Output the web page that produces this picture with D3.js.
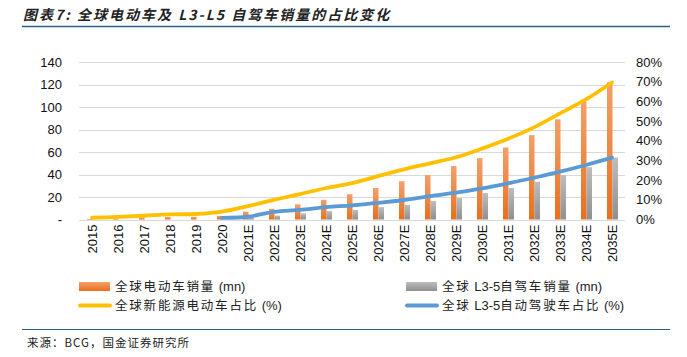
<!DOCTYPE html>
<html><head><meta charset="utf-8">
<script src="https://cdn.jsdelivr.net/npm/d3@7/dist/d3.min.js"></script>
<style>
html,body{margin:0;padding:0;background:#fff;}
svg{display:block;}
</style></head>
<body><svg id="c" width="687" height="357"></svg>
<script>
const categories = ["2015","2016","2017","2018","2019","2020","2021E","2022E","2023E","2024E","2025E","2026E","2027E","2028E","2029E","2030E","2031E","2032E","2033E","2034E","2035E"];
const evSales = [0.5, 1, 1.5, 2.2, 2.3, 3.2, 7, 9.5, 13.5, 17.5, 22.5, 28, 34, 39.5, 47.5, 54.5, 64, 75, 89, 104.5, 122];
const avSales = [0, 0, 0, 0, 0, 0, 1.5, 3.5, 5.5, 7.5, 8.5, 11, 13, 16.5, 19, 23.5, 28, 33.5, 39.5, 46.5, 55];
const evShare = [0.9, 1.3, 1.9, 2.6, 2.8, 4.0, 6.8, 10, 12.9, 16, 18.5, 22, 25.5, 28.5, 31.6, 36, 41, 46.8, 53.9, 61, 69.6];
const avShare = [null, null, null, null, null, 0.8, 1.4, 3.9, 4.9, 6.3, 7.2, 8.5, 9.9, 11.9, 13.6, 15.8, 18.4, 21.2, 24.3, 27.7, 31.4];
const leftTicks = [0, 20, 40, 60, 80, 100, 120, 140];
const rightTicks = [0, 10, 20, 30, 40, 50, 60, 70, 80];
const legendLabels = ["全球电动车销量 (mn)", "全球 L3-5自驾车销量 (mn)", "全球新能源电动车占比 (%)", "全球 L3-5自动驾驶车占比 (%)"];
const titleText = "图表7: 全球电动车及 L3-L5 自驾车销量的占比变化";
const sourceText = "来源：BCG，国金证券研究所";

const svg = d3.select("#c");
const FONT = "'Liberation Sans', Arial, 'Noto Sans CJK SC', sans-serif";
const CJK = "'Noto Sans CJK SC', sans-serif";

const defs = svg.append("defs");
function grad(id, top, bottom){
  const g = defs.append("linearGradient").attr("id", id).attr("x1",0).attr("y1",0).attr("x2",0).attr("y2",1);
  g.append("stop").attr("offset","0%").attr("stop-color", top);
  g.append("stop").attr("offset","100%").attr("stop-color", bottom);
}
grad("gOrange", "#F4A06A", "#E8701E");
grad("gGray", "#BDBDBD", "#8F8F8F");

// title
svg.append("text").attr("x", 23).attr("y", 20)
  .attr("font-family", CJK).attr("font-size", 14).attr("font-weight", "bold").attr("font-style","italic")
  .attr("letter-spacing", 2).attr("fill", "#222").text(titleText);
svg.append("line").attr("x1", 22).attr("x2", 670).attr("y1", 26.5).attr("y2", 26.5)
  .attr("stroke", "#2E5F8A").attr("stroke-width", 1.6);

// scales
const x = d3.scaleBand().domain(categories).range([79, 625]).padding(0);
const x1 = d3.scaleBand().domain(["ev","av"]).range([0, x.bandwidth()]).paddingOuter(1.36).paddingInner(0);
const yL = d3.scaleLinear().domain([0, 140]).range([219.5, 62]);
const yR = d3.scaleLinear().domain([0, 80]).range([219.5, 62]);

// gridlines
svg.append("g").selectAll("line").data(leftTicks).join("line")
  .attr("x1", 79).attr("x2", 625).attr("y1", d => Math.round(yL(d)) + 0.5).attr("y2", d => Math.round(yL(d)) + 0.5)
  .attr("stroke", "#D9D9D9").attr("stroke-width", 1);

// left axis
const axL = svg.append("g").attr("transform", "translate(79,0)")
  .call(d3.axisLeft(yL).tickValues(leftTicks).tickSize(0).tickPadding(17).tickFormat(d => d === 0 ? "-" : d));
axL.select(".domain").remove();
axL.selectAll("text").attr("font-family", FONT).attr("font-size", 13).attr("fill", "#111");

// right axis
const axR = svg.append("g").attr("transform", "translate(625,0)")
  .call(d3.axisRight(yR).tickValues(rightTicks).tickSize(0).tickPadding(11).tickFormat(d => d + "%"));
axR.select(".domain").remove();
axR.selectAll("text").attr("font-family", FONT).attr("font-size", 13).attr("fill", "#111");

// bottom axis
const axB = svg.append("g").attr("transform", "translate(0,219.5)")
  .call(d3.axisBottom(x).tickSize(0).tickPadding(0));
axB.select(".domain").remove();
axB.selectAll("text").attr("font-family", FONT).attr("font-size", 13).attr("fill", "#111")
  .attr("transform", "rotate(-90)").attr("text-anchor", "end").attr("dy", "0.35em").attr("x", -5).attr("y", 0);

// bars
const barG = svg.append("g");
barG.selectAll("rect.ev").data(categories).join("rect").attr("class","ev")
  .attr("x", d => x(d) + x1("ev") + 0.5).attr("width", x1.bandwidth())
  .attr("y", (d,i) => yL(evSales[i])).attr("height", (d,i) => yL(0) - yL(evSales[i]))
  .attr("fill", "url(#gOrange)");
barG.selectAll("rect.av").data(categories).join("rect").attr("class","av")
  .attr("x", d => x(d) + x1("av") + 0.5).attr("width", x1.bandwidth())
  .attr("y", (d,i) => yL(avSales[i])).attr("height", (d,i) => yL(0) - yL(avSales[i]))
  .attr("fill", "url(#gGray)");

// lines
const cx = d => x(d) + x.bandwidth()/2;
const lineEv = d3.line().x((d,i) => cx(categories[i])).y(d => yR(d)).curve(d3.curveCatmullRom.alpha(0.5));
const avPts = categories.map((c,i) => [c, avShare[i]]).filter(p => p[1] !== null);
const lineAv = d3.line().x(p => cx(p[0])).y(p => yR(p[1])).curve(d3.curveCatmullRom.alpha(0.5));
svg.append("path").attr("d", lineEv(evShare)).attr("fill","none").attr("stroke","#FFC000")
  .attr("stroke-width", 3.8).attr("stroke-linecap","round");
svg.append("path").attr("d", lineAv(avPts)).attr("fill","none").attr("stroke","#5B9BD5")
  .attr("stroke-width", 3.8).attr("stroke-linecap","round");

// legend
const leg = svg.append("g");
const legItems = [
  {x: 79, y: 286.5, type: "rect", fill: "url(#gOrange)", label: legendLabels[0]},
  {x: 406, y: 286.5, type: "rect", fill: "url(#gGray)", label: legendLabels[1]},
  {x: 79, y: 305.5, type: "line", fill: "#FFC000", label: legendLabels[2]},
  {x: 406, y: 305.5, type: "line", fill: "#5B9BD5", label: legendLabels[3]}
];
const isCJK = ch => /[\u3000-\u9fff\uff00-\uffef]/.test(ch);
legItems.forEach(it => {
  if (it.type === "rect") {
    leg.append("rect").attr("x", it.x).attr("y", it.y - 4.5).attr("width", 31).attr("height", 9).attr("fill", it.fill);
  } else {
    leg.append("line").attr("x1", it.x + 1).attr("x2", it.x + 31).attr("y1", it.y).attr("y2", it.y)
      .attr("stroke", it.fill).attr("stroke-width", 4).attr("stroke-linecap","round");
  }
  const t = leg.append("text").attr("x", it.x + 36).attr("y", it.y).attr("dy", "0.36em")
    .attr("font-family", FONT).attr("font-size", 13).attr("fill", "#222");
  // split into runs of CJK / Latin
  const runs = [];
  for (const ch of it.label) {
    const c = isCJK(ch);
    if (runs.length && runs[runs.length-1].c === c) runs[runs.length-1].s += ch;
    else runs.push({c, s: ch});
  }
  runs.forEach(r => {
    const sp = t.append("tspan").text(r.s);
    if (r.c) sp.attr("font-family", CJK).attr("font-size", 12.5).attr("letter-spacing", 1.8);
  });
});

// source
svg.append("line").attr("x1", 22).attr("x2", 670).attr("y1", 329.5).attr("y2", 329.5)
  .attr("stroke", "#2E5F8A").attr("stroke-width", 1.2);
svg.append("text").attr("x", 27).attr("y", 343).attr("dy","0.35em")
  .attr("font-family", CJK).attr("font-size", 11.5).attr("letter-spacing", 1).attr("fill", "#222").text(sourceText);
</script></body></html>
